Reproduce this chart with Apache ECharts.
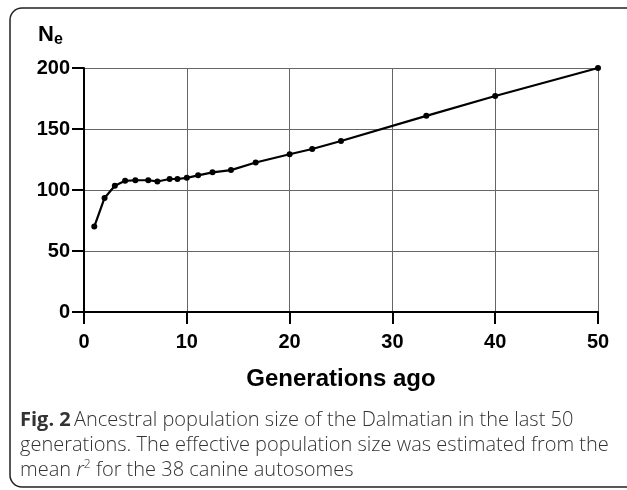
<!DOCTYPE html>
<html>
<head>
<meta charset="utf-8">
<script src="https://cdn.jsdelivr.net/npm/echarts@6/dist/echarts.min.js"></script>
<style>
html,body{margin:0;padding:0;background:#fff;}
#chart{width:627px;height:490px;}
</style>
</head>
<body>
<div id="chart"></div>
<script>
// Generations ago (x) and effective population size (y)
const generations = [1, 2, 3, 4, 5, 6.25, 7.14, 8.33, 9.09, 10, 11.1, 12.5, 14.3, 16.7, 20, 22.2, 25, 33.3, 40, 50];
const neValues = [70, 93.5, 103.5, 107.5, 108, 108, 107, 109, 109, 110, 112, 114.5, 116.3, 122.5, 129.3, 133.6, 140.2, 160.8, 177, 200];
const xTicks = [0, 10, 20, 30, 40, 50];
const yTicks = [0, 50, 100, 150, 200];

const chart = echarts.init(document.getElementById('chart'), null, {renderer: 'canvas'});
const points = generations.map((g, i) => [g, neValues[i]]);
const boldFont = 'Liberation Sans, Arial, sans-serif';

chart.setOption({
  animation: false,
  backgroundColor: '#fff',
  grid: {left: 84, top: 68, right: 29, bottom: 178, containLabel: false},
  xAxis: {
    type: 'value', min: xTicks[0], max: xTicks[xTicks.length - 1], interval: 10,
    name: 'Generations ago', nameLocation: 'middle', nameGap: 55,
    nameTextStyle: {fontFamily: boldFont, fontWeight: 'bold', fontSize: 24, color: '#000'},
    axisLine: {show: true, lineStyle: {color: '#000', width: 2}},
    axisTick: {show: true, length: 12, lineStyle: {color: '#000', width: 2}},
    axisLabel: {margin: 20, fontFamily: boldFont, fontWeight: 'bold', fontSize: 20, color: '#000'},
    splitLine: {show: true, lineStyle: {color: '#666', width: 1}}
  },
  yAxis: {
    type: 'value', min: yTicks[0], max: yTicks[yTicks.length - 1], interval: 50,
    axisLine: {show: true, lineStyle: {color: '#000', width: 2}},
    axisTick: {show: true, length: 12, lineStyle: {color: '#000', width: 2}},
    axisLabel: {margin: 14, fontFamily: boldFont, fontWeight: 'bold', fontSize: 20, color: '#000'},
    splitLine: {show: true, lineStyle: {color: '#666', width: 1}}
  },
  series: [{
    type: 'line', data: points,
    lineStyle: {color: '#000', width: 2.2},
    itemStyle: {color: '#000'},
    symbol: 'circle', symbolSize: 6,
    clip: false
  }],
  graphic: [
    {type: 'rect', z: 100, shape: {x: 10, y: 8, width: 660, height: 479, r: 12},
     style: {fill: 'none', stroke: '#222', lineWidth: 1.5}},
    {type: 'text', left: 38, top: 24, z: 100,
     style: {text: '{a|N}{b|e}', rich: {
       a: {fontFamily: boldFont, fontWeight: 'bold', fontSize: 22, fill: '#000'},
       b: {fontFamily: boldFont, fontWeight: 'bold', fontSize: 16, fill: '#000', padding: [9, 0, 0, 0]}
     }}},
    {type: 'text', left: 20, top: 410, z: 100,
     style: {text: '{b|Fig. 2} {n|Ancestral population size of the Dalmatian in the last 50}\n{n|generations. The effective population size was estimated from the}\n{n|mean }{i|r}{s|2}{n| for the 38 canine autosomes}',
       rich: {
         b: {fontFamily: 'Open Sans', fontWeight: 'bold', fontSize: 20, fill: '#333', lineHeight: 25},
         n: {fontFamily: 'Open Sans', fontWeight: 300, fontSize: 20, fill: '#333', lineHeight: 25},
         i: {fontFamily: 'Open Sans', fontStyle: 'italic', fontWeight: 300, fontSize: 20, fill: '#333', lineHeight: 25},
         s: {fontFamily: 'Open Sans', fontWeight: 300, fontSize: 12, fill: '#333', lineHeight: 25, padding: [0, 0, 11, 0]}
       }}}
  ]
});
</script>
</body>
</html>
